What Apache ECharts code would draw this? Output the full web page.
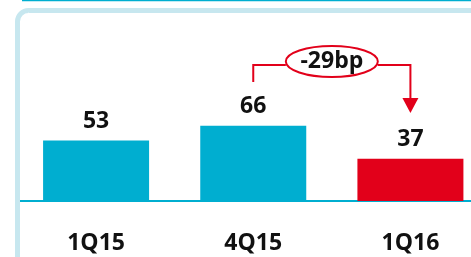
<!DOCTYPE html>
<html>
<head>
<meta charset="utf-8"/>
<title>bp chart</title>
<script src="https://cdn.jsdelivr.net/npm/echarts@6/dist/echarts.min.js"></script>
<style>
	body { margin: 0; padding: 0; background: #fff; overflow: hidden; }
	#main { width: 489px; height: 257px; }
</style>
</head>
<body>
<div id="main"></div>
<script>
	// 数据
	var quarters = ['1Q15', '4Q15', '1Q16'];
	var values = [53, 66, 37];
	var barColors = ['#00aed0', '#00aed0', '#e2001a'];
	var changeText = '-29bp';

	var teal = '#00aed0';
	var red = '#e2001a';
	var font = 'Open Sans';

	var chart = echarts.init(document.getElementById('main'));

	var option = {
		animation: false,
		grid: { left: 17.5, right: 0, top: 21, bottom: 56 },
		xAxis: {
			type: 'category',
			data: quarters,
			axisLine: { lineStyle: { color: teal, width: 2 } },
			axisTick: { show: false },
			axisLabel: {
				margin: 31, fontSize: 23, fontWeight: 'bold',
				color: '#111', fontFamily: font
			}
		},
		yAxis: {
			type: 'value', min: 0, max: 158,
			show: false, splitLine: { show: false }
		},
		series: [{
			type: 'bar',
			barWidth: 106,
			data: values.map(function (v, i) {
				return { value: v, itemStyle: { color: barColors[i] } };
			}),
			label: {
				show: true, position: 'top', distance: 8,
				fontSize: 23, fontWeight: 'bold', color: '#111', fontFamily: font
			}
		}]
	};
	chart.setOption(option);

	// 标注：从4Q15到1Q16的变化
	var p1 = chart.convertToPixel({ seriesIndex: 0 }, [1, values[1]]);
	var p2 = chart.convertToPixel({ seriesIndex: 0 }, [2, values[2]]);
	var lineY = 65;
	var cx = (p1[0] + p2[0]) / 2;
	var rx = 46, ry = 15.5;
	var arrowTip = 113;

	chart.setOption({
		graphic: [
			// 顶部线条
			{ type: 'line', shape: { x1: 22, y1: 0.5, x2: 489, y2: 0.5 },
			  style: { stroke: teal, lineWidth: 1.5 }, z: 10 },
			// 圆角边框
			{ type: 'rect', shape: { x: 17.5, y: 10.5, width: 520, height: 300, r: 11 },
			  style: { fill: null, stroke: '#c7e7ef', lineWidth: 5 }, z: 10 },
			{ type: 'polyline', shape: { points: [[p1[0], 82], [p1[0], lineY], [cx - rx, lineY]] },
			  style: { stroke: red, lineWidth: 2, fill: null }, z: 10 },
			{ type: 'polyline', shape: { points: [[cx + rx, lineY], [p2[0], lineY], [p2[0], arrowTip - 12]] },
			  style: { stroke: red, lineWidth: 2, fill: null }, z: 10 },
			{ type: 'polygon', shape: { points: [[p2[0] - 8, arrowTip - 15], [p2[0] + 8, arrowTip - 15], [p2[0], arrowTip]] },
			  style: { fill: red }, z: 10 },
			{ type: 'ellipse', shape: { cx: cx, cy: 61.5, rx: rx, ry: ry },
			  style: { fill: '#fff', stroke: red, lineWidth: 2 }, z: 10 },
			{ type: 'text', x: cx, y: 61.5,
			  style: { text: changeText, fill: '#111', font: 'bold 23px "' + font + '"',
			           align: 'center', verticalAlign: 'middle' }, z: 11 }
		]
	});
</script>
</body>
</html>
